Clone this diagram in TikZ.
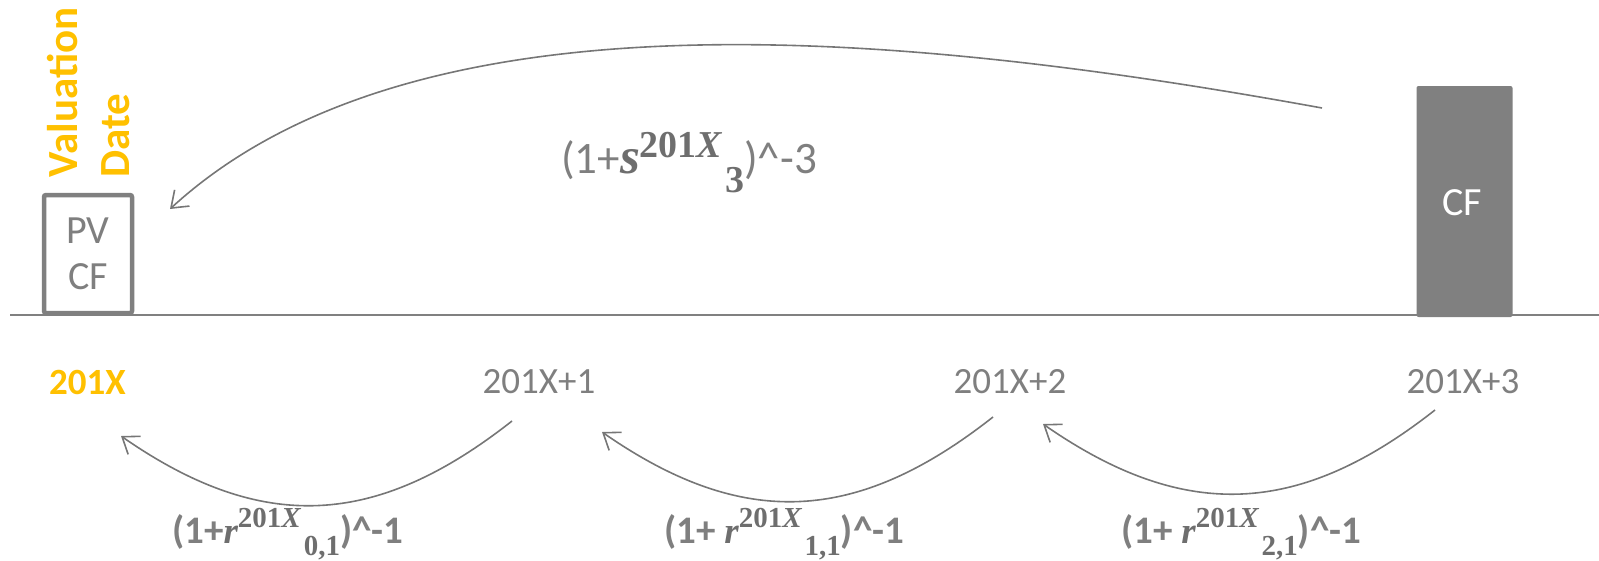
\documentclass[tikz,border=0pt]{standalone}
\usepackage{fontspec}
\setmainfont{Carlito}
\newfontfamily\lib{Liberation Serif}
\usetikzlibrary{arrows.meta}
\definecolor{tgray}{RGB}{127,127,127}
\definecolor{lgray}{RGB}{128,128,128}
\definecolor{mgray}{RGB}{110,110,110}
\definecolor{agray}{RGB}{118,118,118}
\definecolor{gold}{RGB}{255,192,0}
% #1 letter, #2 base size, #3 script size, #4 raise, #5 lower, #6 subscript
\newcommand\rateexp[6]{{\color{mgray}%
{\lib\bfseries\itshape\fontsize{#2}{#2}\selectfont #1}%
\raisebox{#4}{\lib\bfseries\fontsize{#3}{#3}\selectfont 201\itshape X}\kern3pt%
\raisebox{-#5}{\lib\bfseries\fontsize{#3}{#3}\selectfont #6}}}
\begin{document}
\begin{tikzpicture}[x=1pt,y=-1pt,
  yr/.style={font=\fontsize{37}{44}\selectfont, text=tgray, inner sep=0pt},
  boxtxt/.style={font=\fontsize{40}{46}\selectfont, inner sep=0pt},
  topf/.style={font=\fontsize{45}{52}\selectfont, text=tgray, inner sep=0pt, anchor=base west},
  botf/.style={font=\bfseries\fontsize{39}{46}\selectfont, text=tgray, inner sep=0pt, anchor=base west},
  arcline/.style={draw=agray, line width=1.6pt, -{Straight Barb[length=15pt,width=22pt]}},
]
\useasboundingbox (0,0) rectangle (1599,560);
% timeline
\coordinate (tl0) at (10,315);
\coordinate (tl1) at (1599,315);
\draw[lgray, line width=2pt] (tl0) -- (tl1);
% PV box
\node[boxtxt, draw=lgray, text=tgray, line width=4.5pt, rounded corners=2pt,
      minimum width=88pt, minimum height=118pt, align=center] (pvbox) at (88,254) {PV\\CF};
% valuation date
\node[rotate=90, anchor=west, align=left, inner sep=0pt, text=gold,
      font=\bfseries\fontsize{43}{52}\selectfont] (vd) at (88.5,178) {Valuation\\Date};
% CF box
\node[fill=lgray, rounded corners=2pt, minimum width=96pt, minimum height=231pt, inner sep=0pt] (cfbox) at (1464.5,201.5) {};
\node[boxtxt, text=white] (cftext) at (1462,203) {CF};
% years
\node[yr, text=gold] (y0) at (87.5,382) {\textbf{201X}};
\node[yr] (y1) at (539,382) {201X+1};
\node[yr] (y2) at (1010,382) {201X+2};
\node[yr] (y3) at (1463,382) {201X+3};
% top formula
\node[topf] (sf) at (561,173) {(1+\rateexp{s}{51}{38}{16pt}{19pt}{3})\textasciicircum-3};
% bottom formulas
\node[botf] (r0) at (172,543) {(1+\rateexp{r}{37}{29}{16pt}{12pt}{0,1})\textasciicircum-1};
\node[botf] (r1) at (664,543) {(1+ \rateexp{r}{37}{29}{16pt}{12pt}{1,1})\textasciicircum-1};
\node[botf] (r2) at (1121,543) {(1+ \rateexp{r}{37}{29}{16pt}{12pt}{2,1})\textasciicircum-1};
% arc end points
\coordinate (a1s) at (512,421);  \coordinate (a1e) at (121,436);
\coordinate (a2s) at (993,417);  \coordinate (a2e) at (602,432);
\coordinate (a3s) at (1435,410); \coordinate (a3e) at (1043,424);
\coordinate (ts) at (1322,108);  \coordinate (te) at (170,209);
\draw[arcline] (a1s) .. controls +(-136,107) and +(141,98) .. (a1e);
\draw[arcline] (a2s) .. controls +(-136,107) and +(141,98) .. (a2e);
\draw[arcline] (a3s) .. controls +(-136,107) and +(141,98) .. (a3e);
\draw[arcline] (ts) .. controls +(-440,-80) and +(240,-220) .. (te);
\end{tikzpicture}
\end{document}
